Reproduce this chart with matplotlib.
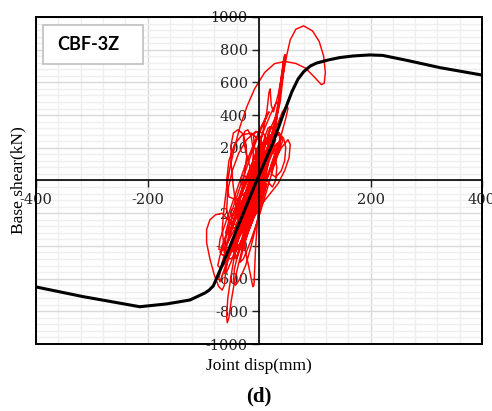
import numpy as np
import matplotlib.pyplot as plt
from matplotlib.patches import Rectangle
from matplotlib.ticker import MultipleLocator

plt.rcParams['axes.unicode_minus'] = False

# pushover backbone (mm, kN)
backbone_disp = [-400, -316, -250, -214, -166, -124, -97, -90, -82, -60, -40, -4,
                 25, 43, 59, 70, 80, 92, 103, 124, 145, 170, 199, 222, 265, 325, 400]
backbone_shear = [-651, -710, -750, -772, -755, -731, -688, -672, -645, -470, -300, 0,
                  230, 400, 543, 620, 665, 700, 718, 737, 752, 762, 768, 765, 735, 690, 645]

# time-history hysteresis, traced cycle by cycle (mm, kN)
cycles_small = [(0, 0), (6, 60), (12, 140), (16, 210), (15, 250), (10, 240), (4, 170), (-4, 70),
                (-12, -40), (-20, -150), (-25, -220), (-24, -250), (-18, -220), (-10, -130),
                (-2, -30), (8, 90), (18, 210), (25, 300), (26, 330), (20, 310), (12, 230), (2, 110),
                (-10, -30), (-22, -170), (-32, -290), (-36, -330), (-32, -320), (-24, -250),
                (-12, -110), (0, 30), (14, 190), (26, 320), (32, 380), (30, 390), (22, 330),
                (10, 200), (-4, 40), (-18, -120), (-30, -260)]
cycles_left = [(-38, -340), (-42, -380), (-40, -370), (-34, -300), (-40, -180), (-46, -40),
               (-50, 100), (-50, 220), (-46, 290), (-38, 310), (-30, 290), (-24, 230), (-22, 150),
               (-26, 40), (-32, -80), (-36, -170), (-30, -150), (-20, -60), (-12, 60), (-10, 180),
               (-14, 270), (-20, 310), (-26, 300), (-28, 250), (-22, 150), (-12, 40), (-2, -60),
               (6, -80), (10, -30), (12, 60), (8, 180), (2, 270), (-4, 300), (-10, 280), (-8, 200),
               (2, 100), (14, 0), (24, -40), (30, 0), (32, 80), (28, 160), (20, 200), (10, 160)]
cycles_right = [(20, 230), (34, 280), (44, 260), (48, 200), (46, 120), (40, 60), (30, 20),
                (22, 40), (28, 120), (40, 200), (52, 250), (56, 220), (54, 140), (46, 60),
                (34, -20), (20, -80), (6, -140), (-8, -220)]
cycles_spikes = [(-20, -320), (-28, -380), (-24, -360), (-12, -250), (2, -100), (14, 60),
                 (24, 220), (32, 380), (38, 540), (42, 680), (45, 760), (47, 770), (46, 720),
                 (42, 600), (38, 480), (34, 420), (36, 520), (40, 640), (44, 720), (42, 660),
                 (34, 520), (26, 420), (22, 460), (20, 560), (18, 540), (14, 420), (6, 280),
                 (-6, 120), (-20, -60), (-34, -230), (-48, -400), (-58, -520), (-62, -560),
                 (-58, -560), (-48, -480), (-36, -340)]
cycles_lower = [(-50, -260), (-66, -200), (-78, -210), (-88, -240), (-94, -300), (-94, -380),
                (-88, -480), (-80, -580), (-72, -650), (-66, -670), (-62, -640), (-60, -560),
                (-56, -470), (-50, -400), (-44, -330), (-38, -240), (-28, -120), (-16, 20),
                (-6, 120), (2, 200), (4, 180), (-4, 60), (-16, -80), (-30, -250), (-42, -420),
                (-50, -580), (-56, -720), (-58, -830), (-57, -870), (-54, -840), (-50, -740),
                (-44, -620), (-36, -500), (-26, -360), (-14, -200), (-4, -60), (6, 60), (12, 120),
                (10, 80), (4, -60), (-2, -220), (-6, -400), (-8, -560), (-9, -640), (-11, -650),
                (-14, -600), (-20, -500), (-28, -380)]
cycles_peak = [(-40, -460), (-52, -480), (-62, -440), (-66, -300), (-63, -180), (-58, -40),
               (-52, 80), (-44, 200), (-34, 330), (-22, 450), (-8, 560), (10, 660), (28, 715),
               (47, 728), (66, 716), (84, 686), (100, 630), (112, 586), (117, 595), (119, 660),
               (116, 760), (108, 850), (96, 915), (80, 946), (66, 925), (56, 860), (50, 770),
               (44, 660), (40, 580), (34, 470), (26, 330), (16, 170), (4, 20), (-8, -120),
               (-20, -260), (-32, -400), (-40, -480), (-44, -470), (-40, -400)]
cycles_wide_a = [(-30, -260), (-18, -100), (-6, 40), (4, 60), (0, 0), (-20, -60), (-40, -120),
                 (-54, -100), (-58, 0), (-54, 120), (-44, 220), (-30, 280), (-14, 290), (0, 250),
                 (8, 180), (10, 80), (4, -40), (-8, -180), (-20, -320), (-30, -440), (-34, -500),
                 (-28, -480), (-16, -380), (0, -220), (14, -60), (26, 80), (36, 180), (42, 240),
                 (40, 280), (30, 300), (14, 260), (-2, 180), (-18, 60), (-34, -80), (-48, -220),
                 (-60, -360), (-70, -460), (-74, -520), (-68, -540), (-56, -480), (-40, -380),
                 (-22, -260), (-6, -140), (8, -40), (18, 40), (22, 100)]
cycles_wide_b = [(30, 180), (40, 280), (48, 380), (52, 440), (50, 460), (42, 420), (30, 320),
                 (16, 200), (0, 60), (-16, -80), (-30, -200), (-44, -300), (-56, -380),
                 (-66, -430), (-72, -420), (-70, -360), (-60, -260), (-48, -140), (-36, -20),
                 (-24, 100), (-10, 220), (4, 330), (14, 400), (18, 420), (14, 390), (2, 300),
                 (-12, 180), (-26, 40), (-40, -100), (-52, -220), (-60, -320), (-56, -330),
                 (-44, -240), (-30, -120), (-14, 20), (2, 150), (16, 250), (28, 300), (36, 290),
                 (38, 230), (32, 150), (20, 60), (6, -40), (-8, -140), (-20, -240), (-30, -320),
                 (-26, -330), (-12, -240), (4, -120), (14, -20)]
cycles_wide_c = [(6, -120), (-4, -260), (-14, -400), (-24, -520), (-34, -600), (-42, -640),
                 (-46, -620), (-44, -540), (-36, -420), (-26, -300), (-14, -180), (0, -60),
                 (10, 40), (14, 100), (8, 80), (-4, -20), (-20, -160), (-36, -300), (-52, -440),
                 (-64, -560), (-70, -620), (-72, -600), (-66, -500), (-56, -380), (-44, -260),
                 (-30, -140), (-16, -40), (-4, 40), (4, 80)]
cycles_dense_a = [(0, 0), (-12, -100), (-26, -200), (-40, -270), (-52, -260), (-58, -180),
                  (-56, -60), (-48, 60), (-36, 170), (-22, 250), (-6, 300), (8, 290), (16, 230),
                  (18, 140), (12, 40), (0, -60), (-14, -160), (-28, -280), (-40, -380),
                  (-48, -430), (-44, -440), (-32, -370), (-18, -260), (-2, -130), (12, -10),
                  (24, 100), (34, 200), (40, 260), (36, 290), (24, 280), (10, 220), (-6, 120),
                  (-22, 0), (-38, -130), (-52, -260), (-64, -380), (-70, -440), (-64, -460),
                  (-50, -400), (-34, -300), (-18, -180), (-4, -60), (10, 60), (22, 170),
                  (30, 250), (26, 270), (14, 230), (0, 150), (-14, 50), (-28, -60), (-40, -160),
                  (-46, -200), (-40, -190), (-28, -110), (-14, -10), (0, 90), (12, 180), (20, 240)]
cycles_dense_b = [(28, 330), (34, 420), (36, 480), (30, 470), (20, 400), (8, 300), (-6, 170),
                  (-20, 30), (-34, -110), (-46, -240), (-56, -360), (-62, -440), (-58, -470),
                  (-48, -420), (-34, -320), (-18, -190), (-4, -70), (10, 50), (22, 150),
                  (30, 210), (34, 230), (28, 210), (16, 140), (2, 40), (-12, -80), (-26, -210),
                  (-38, -330), (-46, -420), (-42, -440), (-30, -360), (-16, -240), (-2, -110),
                  (12, 10), (24, 110), (32, 170), (30, 190), (18, 150), (4, 70), (-10, -40),
                  (-24, -160), (-36, -260), (-30, -250), (-16, -150), (-2, -40), (8, 40)]
cycles_end = [(6, 170), (16, 280), (20, 330), (16, 320), (6, 220), (-6, 80), (-18, -60),
              (-30, -200), (-40, -300), (-44, -310), (-38, -250), (-26, -120), (-14, 0),
              (-4, 100), (4, 160), (0, 120), (-10, 20), (-22, -100), (-34, -200), (-30, -180),
              (-18, -80), (-8, 10), (0, 0)]

history = np.array(cycles_small + cycles_left + cycles_right + cycles_spikes
                   + cycles_lower + cycles_peak + cycles_wide_a + cycles_wide_b
                   + cycles_wide_c + cycles_dense_a + cycles_dense_b + cycles_end)

fig = plt.figure(figsize=(4.92, 4.11), dpi=100)
ax = fig.add_axes([36 / 492, 1 - 344 / 411, 446 / 492, 327 / 411])

ax.set_xlim(-400, 400)
ax.set_ylim(-1000, 1000)

# excel-style grid
for gx in np.arange(-400, 401, 40):
    major = gx % 200 == 0
    ax.axvline(gx, color='#d9d9d9' if major else '#efefef', lw=1.0, zorder=0)
for gy in np.arange(-1000, 1001, 40):
    major = gy % 200 == 0
    ax.axhline(gy, color='#d9d9d9' if major else '#efefef', lw=1.0, zorder=0)

ax.plot(history[:, 0], history[:, 1], color='#ff0000', lw=1.05, zorder=2,
        solid_joinstyle='round')
ax.plot(backbone_disp, backbone_shear, color='black', lw=2.2, zorder=3,
        solid_capstyle='round')

# axes crossing at the origin, plus outer frame
ax.spines['left'].set_position(('data', 0))
ax.spines['bottom'].set_position(('data', 0))
for s in ['left', 'bottom', 'top', 'right']:
    ax.spines[s].set_linewidth(1.2)
ax.add_patch(Rectangle((0, 0), 1, 1, transform=ax.transAxes, fill=False,
                       ec='black', lw=1.4, clip_on=False, zorder=4))

ax.xaxis.set_major_locator(MultipleLocator(200))
ax.yaxis.set_major_locator(MultipleLocator(200))
ax.tick_params(axis='both', which='major', direction='out', length=5, width=1,
               labelsize=10.5, colors='#222222')
ax.tick_params(axis='x', pad=4)
ax.tick_params(axis='y', pad=3)
for lab in ax.get_xticklabels() + ax.get_yticklabels():
    lab.set_family('DejaVu Serif')

fig.text(18 / 492, 1 - 180 / 411, 'Base shear(kN)', rotation=90, ha='center', va='center',
         family='Liberation Serif', fontsize=12.5)
fig.text(259 / 492, 1 - 366 / 411, 'Joint disp(mm)', ha='center', va='center',
         family='Liberation Serif', fontsize=12.5)
fig.text(259 / 492, 1 - 396 / 411, '(d)', ha='center', va='center',
         family='Liberation Serif', fontsize=15, fontweight='bold')

# model tag
fig.patches.append(Rectangle((43 / 492, 1 - 64 / 411), 100 / 492, 39 / 411,
                             transform=fig.transFigure, fc='white', ec='#bfbfbf', lw=1.2))
fig.text(88 / 492, 1 - 45 / 411, 'CBF-3Z', ha='center', va='center',
         family='Lato', fontweight='bold', fontsize=13)

fig.savefig('out.png', dpi=100)
